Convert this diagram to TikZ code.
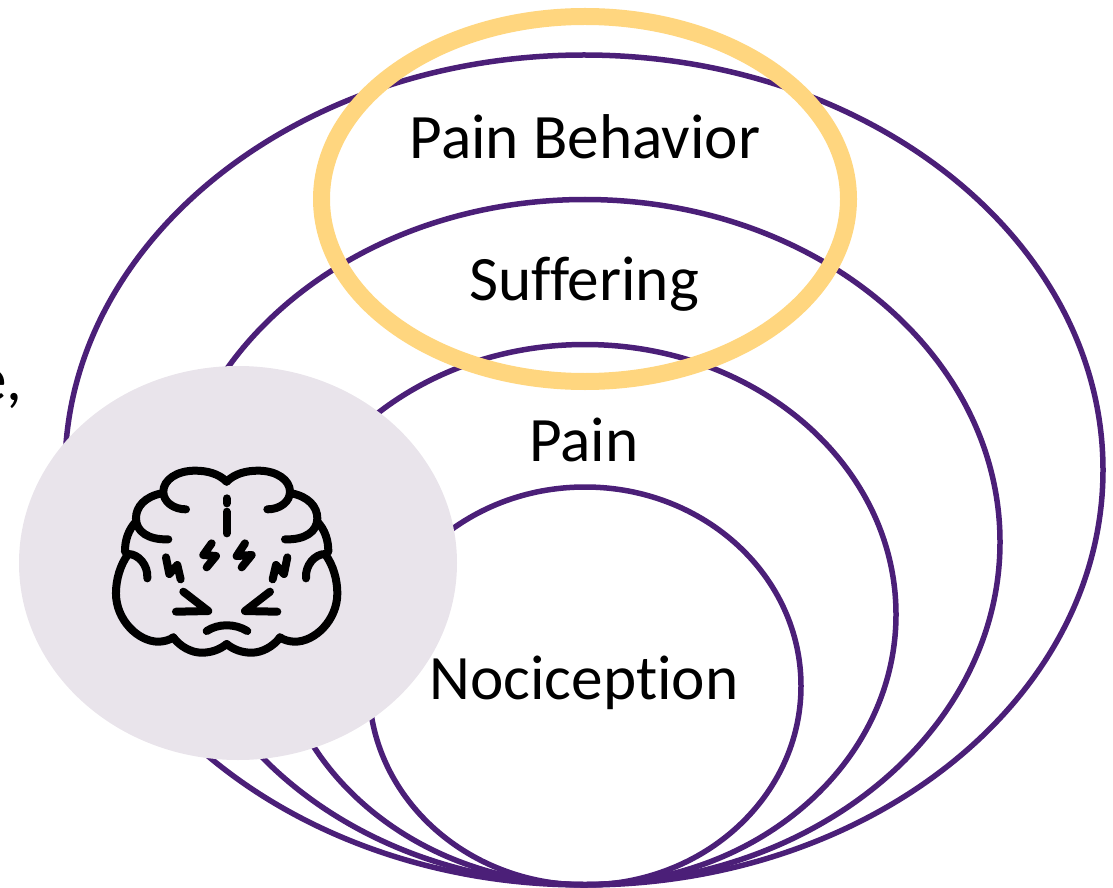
\documentclass[tikz,border=0pt]{standalone}
\usepackage{fontspec}
\setmainfont[Ligatures=NoCommon]{Carlito}
\usetikzlibrary{shapes.geometric}
\definecolor{ringc}{HTML}{4B1F78}
\definecolor{halo}{HTML}{FFD67F}
\definecolor{disc}{HTML}{E9E4EB}
\tikzset{
  ring/.style={draw=ringc,line width=0.11cm,ellipse,inner sep=0pt},
  lab/.style={font=\fontsize{36}{43}\selectfont,text=black,inner sep=0pt},
  gl/.style={line width=0.16cm,line cap=round,line join=round},
}
\begin{document}
\begin{tikzpicture}
\useasboundingbox (0,0) rectangle (22.26,17.74);
\node[ring,minimum width=20.76cm,minimum height=16.6cm] (behav) at (11.68,8.34) {};
\node[ring,minimum width=16.6cm,minimum height=13.7cm] (suff) at (11.7,6.9) {};
\node[ring,minimum width=12.44cm,minimum height=10.8cm] (pain) at (11.7,5.45) {};
\node[ring,minimum width=8.64cm,minimum height=7.96cm] (noci) at (11.7,4.02) {};
\node[draw=halo,line width=0.34cm,ellipse,inner sep=0pt,minimum width=10.54cm,minimum height=7.3cm] (focus) at (11.7,13.76) {};
\node[fill=disc,ellipse,inner sep=0pt,minimum width=8.76cm,minimum height=7.88cm] (head) at (4.76,6.48) {};
\node[lab] (tb) at (11.7,15.0) {Pain Behavior};
\node[lab] (ts) at (11.68,12.06) {Suffering};
\node[lab] (tp) at (11.68,8.94) {Pain};
\node[lab] (tn) at (11.68,4.08) {Nociception};
\node[lab,anchor=base east] (te) at (0.46,9.74) {e,};
\begin{scope}[shift={(4.533,8.74)},x=0.00667cm,y=-0.00667cm]
\foreach \s in {1,-1}{
  \begin{scope}[xscale=\s]
  \draw[gl] (0,95) .. controls (-25,70) and (-60,62) .. (-95,62) .. controls (-150,62) and (-190,90) .. (-190,125) .. controls (-190,155) and (-160,178) .. (-122,178);
  \draw[gl] (-195,130) .. controls (-245,140) and (-272,170) .. (-272,205) .. controls (-272,245) and (-235,270) .. (-175,268);
  \draw[gl] (-272,215) .. controls (-295,240) and (-305,270) .. (-305,305);
  \draw[gl] (-238,385) .. controls (-235,345) and (-265,312) .. (-295,312) .. controls (-320,345) and (-332,390) .. (-332,430) .. controls (-332,510) and (-265,575) .. (-205,575) .. controls (-190,575) and (-170,570) .. (-160,562);
  \draw[gl] (-160,562) .. controls (-140,590) and (-105,608) .. (-75,608) .. controls (-45,608) and (-20,598) .. (0,582);
  \draw[gl] (-130,425) -- (-55,483) -- (-152,485);
  \draw[gl] (-182,322) -- (-172,372) -- (-148,345) -- (-138,388);
  \end{scope}
}
\draw[gl] (0,145) -- (0,160);
\draw[gl] (0,185) -- (0,250);
\draw[gl] (-45,280) -- (-70,315) -- (-32,318) -- (-60,352);
\draw[gl] (55,280) -- (30,318) -- (75,315) -- (45,352);
\draw[gl] (-60,543) .. controls (-25,520) and (25,520) .. (62,543);
\end{scope}
\end{tikzpicture}
\end{document}
